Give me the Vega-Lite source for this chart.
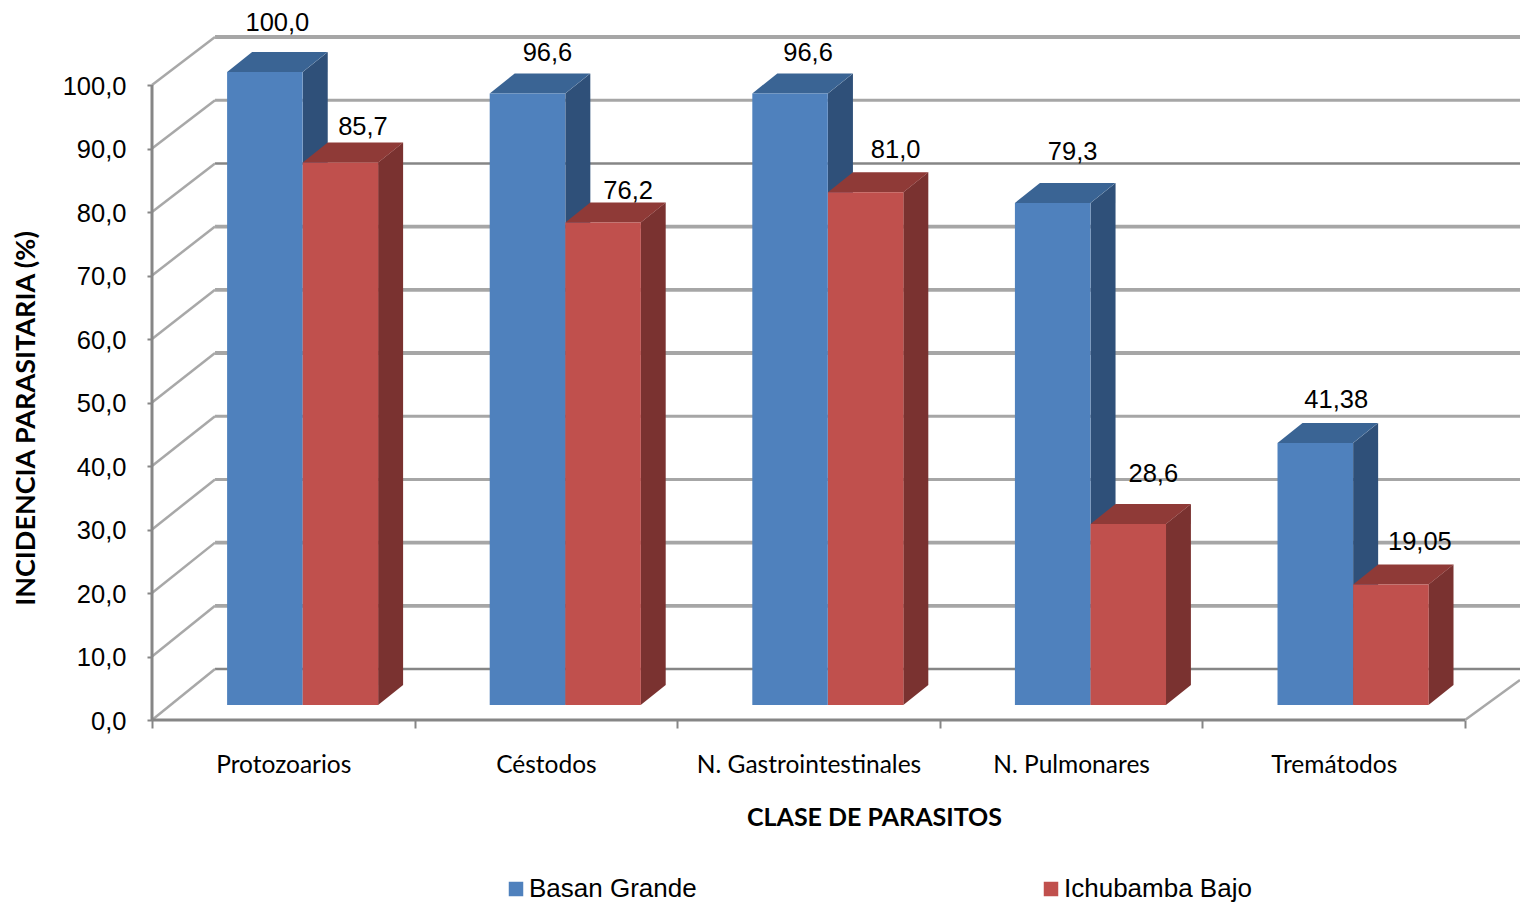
{
  "$schema": "https://vega.github.io/schema/vega-lite/v6.json",
  "autosize": "none",
  "padding": {"left": 152, "top": 0, "right": 0, "bottom": 184},
  "width": 1368,
  "height": 720,
  "background": "white",
  "view": {"stroke": null},
  "config": {"font": "Liberation Sans"},
  "datasets": {
    "incidencia": [
      {"clase": "Protozoarios", "serie": "Basan Grande", "valor": 100, "etiqueta": "100,0"},
      {"clase": "Céstodos", "serie": "Basan Grande", "valor": 96.6, "etiqueta": "96,6"},
      {"clase": "N. Gastrointestinales", "serie": "Basan Grande", "valor": 96.6, "etiqueta": "96,6"},
      {"clase": "N. Pulmonares", "serie": "Basan Grande", "valor": 79.3, "etiqueta": "79,3"},
      {"clase": "Tremátodos", "serie": "Basan Grande", "valor": 41.38, "etiqueta": "41,38"},
      {"clase": "Protozoarios", "serie": "Ichubamba Bajo", "valor": 85.7, "etiqueta": "85,7"},
      {"clase": "Céstodos", "serie": "Ichubamba Bajo", "valor": 76.2, "etiqueta": "76,2"},
      {"clase": "N. Gastrointestinales", "serie": "Ichubamba Bajo", "valor": 81.0, "etiqueta": "81,0"},
      {"clase": "N. Pulmonares", "serie": "Ichubamba Bajo", "valor": 28.6, "etiqueta": "28,6"},
      {"clase": "Tremátodos", "serie": "Ichubamba Bajo", "valor": 19.05, "etiqueta": "19,05"}
    ],
    "niveles": [
      {"nivel": 0}, {"nivel": 10}, {"nivel": 20}, {"nivel": 30}, {"nivel": 40}, {"nivel": 50},
      {"nivel": 60}, {"nivel": 70}, {"nivel": 80}, {"nivel": 90}, {"nivel": 100}
    ],
    "unica": [{"marco": 1}]
  },
  "layer": [
    {
      "data": {"name": "niveles"},
      "transform": [{"calculate": "datum.nivel * 0.9953 + 8.03", "as": "fondo"}],
      "mark": {"type": "rule"},
      "encoding": {
        "x": {
          "datum": 0.24,
          "type": "quantitative",
          "scale": {"domain": [0, 5.2094], "nice": false, "zero": false},
          "axis": {
            "values": [0, 0.5, 1, 1.5, 2, 2.5, 3, 3.5, 4, 4.5, 5],
            "domain": false,
            "grid": false,
            "tickColor": "#868686",
            "tickWidth": 2,
            "tickSize": 8,
            "tickOpacity": {"condition": {"test": "datum.value % 1 === 0", "value": 1}, "value": 0},
            "labelExpr": "datum.value % 1 === 0 ? '' : ['Protozoarios','Céstodos','N. Gastrointestinales','N. Pulmonares','Tremátodos'][floor(datum.value)]",
            "labelFont": "Lato",
            "labelFontSize": 24.5,
            "labelColor": "#000000",
            "labelPadding": 25,
            "labelLimit": 400,
            "labelOverlap": false,
            "labelFlush": false,
            "labelBound": false,
            "title": "CLASE DE PARASITOS",
            "titleFont": "Lato",
            "titleFontSize": 25,
            "titleFontWeight": "bold",
            "titleColor": "#000000",
            "titleX": 722,
            "titleY": 97,
            "titleAlign": "center",
            "titleBaseline": "middle"
          }
        },
        "x2": {"datum": 5.2094},
        "y": {
          "field": "fondo",
          "type": "quantitative",
          "scale": {"domain": [0, 113.386], "nice": false, "zero": false},
          "axis": {
            "values": [0, 10, 20, 30, 40, 50, 60, 70, 80, 90, 100],
            "domain": false,
            "grid": false,
            "tickColor": "#868686",
            "tickWidth": 2,
            "tickSize": 5,
            "labelExpr": "replace(format(datum.value, '.1f'), '.', ',')",
            "labelFont": "Liberation Sans",
            "labelFontSize": 25.5,
            "labelColor": "#000000",
            "labelPadding": 21,
            "labelOffset": 1,
            "labelOverlap": false,
            "labelBound": false,
            "title": "INCIDENCIA  PARASITARIA (%)",
            "titleFont": "Lato",
            "titleFontSize": 27,
            "titleFontWeight": "bold",
            "titleColor": "#000000",
            "titleX": -126,
            "titleY": 418,
            "titleAngle": -90,
            "titleAlign": "center",
            "titleBaseline": "middle"
          }
        },
        "stroke": {
          "condition": {"test": "datum.nivel === 0 || datum.nivel === 80", "value": "#868686"},
          "value": "#a6a6a6"
        },
        "strokeWidth": {
          "condition": [
            {"test": "datum.nivel === 0 || datum.nivel === 80", "value": 2.5},
            {"test": "datum.nivel === 90 || datum.nivel === 40 || datum.nivel === 30", "value": 3}
          ],
          "value": 3.8
        }
      }
    },
    {
      "data": {"name": "niveles"},
      "transform": [{"calculate": "datum.nivel * 0.9953 + 8.03", "as": "fondo"}],
      "mark": {"type": "rule", "color": "#a8a8a8", "strokeWidth": 2.5},
      "encoding": {
        "x": {"datum": 0, "type": "quantitative"},
        "x2": {"datum": 0.24},
        "y": {"field": "nivel", "type": "quantitative"},
        "y2": {"field": "fondo"}
      }
    },
    {
      "data": {"name": "unica"},
      "mark": {"type": "rule", "color": "#a8a8a8", "strokeWidth": 2.5},
      "encoding": {
        "x": {"datum": 5, "type": "quantitative"},
        "x2": {"datum": 5.2094},
        "y": {"datum": 0, "type": "quantitative"},
        "y2": {"datum": 6.3}
      }
    },
    {
      "data": {"name": "unica"},
      "mark": {"type": "rule", "color": "#868686", "strokeWidth": 3},
      "encoding": {
        "x": {"datum": 0, "type": "quantitative"},
        "y": {"datum": 0, "type": "quantitative"},
        "y2": {"datum": 100}
      }
    },
    {
      "data": {"name": "unica"},
      "mark": {"type": "rule", "color": "#868686", "strokeWidth": 3},
      "encoding": {
        "x": {"datum": 0, "type": "quantitative"},
        "x2": {"datum": 5},
        "y": {"datum": 0, "type": "quantitative"}
      }
    },
    {
      "data": {"name": "incidencia"},
      "transform": [
        {"calculate": "indexof(['Protozoarios','Céstodos','N. Gastrointestinales','N. Pulmonares','Tremátodos'], datum.clase)", "as": "idx"},
        {"calculate": "datum.idx + (datum.serie === 'Basan Grande' ? 0.574 : 0.861)", "as": "der"},
        {"calculate": "[0, 1]", "as": "t"},
        {"flatten": ["t"]},
        {"calculate": "datum.der + datum.t * 0.0952", "as": "xc"},
        {"calculate": "2.36 + datum.t * 3.15", "as": "yb"},
        {"calculate": "2.36 + datum.valor * 0.997 + datum.t * 3.15", "as": "yt"}
      ],
      "mark": {"type": "area", "interpolate": "linear"},
      "encoding": {
        "x": {"field": "xc", "type": "quantitative"},
        "y": {"field": "yt", "type": "quantitative"},
        "y2": {"field": "yb"},
        "detail": {"field": "clase"},
        "color": {
          "field": "serie",
          "type": "nominal",
          "legend": null,
          "scale": {"domain": ["Basan Grande", "Ichubamba Bajo"], "range": ["#2f5079", "#7a3230"]}
        }
      }
    },
    {
      "data": {"name": "incidencia"},
      "transform": [
        {"calculate": "indexof(['Protozoarios','Céstodos','N. Gastrointestinales','N. Pulmonares','Tremátodos'], datum.clase)", "as": "idx"},
        {"calculate": "datum.idx + (datum.serie === 'Basan Grande' ? 0.286 : 0.574)", "as": "izq"},
        {"calculate": "[0, 1]", "as": "t"},
        {"flatten": ["t"]},
        {"calculate": "datum.izq + datum.t * 0.0952", "as": "xi"},
        {"calculate": "datum.izq + 0.2875 + datum.t * 0.0952", "as": "xd"},
        {"calculate": "2.36 + datum.valor * 0.997 + datum.t * 3.15", "as": "yt"}
      ],
      "mark": {"type": "area", "orient": "horizontal", "interpolate": "linear"},
      "encoding": {
        "y": {"field": "yt", "type": "quantitative"},
        "x": {"field": "xi", "type": "quantitative"},
        "x2": {"field": "xd"},
        "detail": {"field": "clase"},
        "color": {
          "field": "serie",
          "type": "nominal",
          "legend": null,
          "scale": {"domain": ["Basan Grande", "Ichubamba Bajo"], "range": ["#3a6494", "#8f3a37"]}
        }
      }
    },
    {
      "data": {"name": "incidencia"},
      "transform": [
        {"calculate": "indexof(['Protozoarios','Céstodos','N. Gastrointestinales','N. Pulmonares','Tremátodos'], datum.clase)", "as": "idx"},
        {"calculate": "datum.idx + (datum.serie === 'Basan Grande' ? 0.286 : 0.574)", "as": "izq"},
        {"calculate": "datum.izq + 0.2875", "as": "der"},
        {"calculate": "2.36", "as": "yb"},
        {"calculate": "2.36 + datum.valor * 0.997", "as": "yt"}
      ],
      "mark": {"type": "rect"},
      "encoding": {
        "x": {"field": "izq", "type": "quantitative"},
        "x2": {"field": "der"},
        "y": {"field": "yt", "type": "quantitative"},
        "y2": {"field": "yb"},
        "color": {
          "field": "serie",
          "type": "nominal",
          "scale": {"domain": ["Basan Grande", "Ichubamba Bajo"], "range": ["#4f81bd", "#c0504d"]},
          "legend": {
            "title": null,
            "orient": "none",
            "legendX": 351,
            "legendY": 876,
            "direction": "horizontal",
            "columns": 2,
            "columnPadding": 341,
            "symbolType": "square",
            "symbolSize": 210,
            "symbolStrokeWidth": 0,
            "labelFont": "Liberation Sans",
            "labelFontSize": 26,
            "labelColor": "#000000",
            "labelOffset": 0,
            "labelLimit": 300
          }
        }
      }
    },
    {
      "data": {"name": "incidencia"},
      "transform": [
        {"calculate": "indexof(['Protozoarios','Céstodos','N. Gastrointestinales','N. Pulmonares','Tremátodos'], datum.clase)", "as": "idx"},
        {"calculate": "datum.serie === 'Basan Grande' ? [[0, 29], [7.5, 20.5], [5.5, 20.5], [7.5, 31], [8.5, 23]][datum.idx] : [[10, 15.5], [12.5, 12], [17.5, 22], [12.5, 30], [16.5, 22]][datum.idx]", "as": "ajuste"},
        {"calculate": "datum.idx + (datum.serie === 'Basan Grande' ? 0.286 : 0.574) + 0.19135 + datum.ajuste[0] / 262.6", "as": "xt"},
        {"calculate": "2.36 + datum.valor * 0.997 + 3.15 + datum.ajuste[1] / 6.35", "as": "yl"}
      ],
      "mark": {"type": "text", "font": "Liberation Sans", "fontSize": 25.5, "color": "#000000", "align": "center", "baseline": "middle"},
      "encoding": {
        "x": {"field": "xt", "type": "quantitative"},
        "y": {"field": "yl", "type": "quantitative"},
        "text": {"field": "etiqueta"}
      }
    }
  ],
  "resolve": {"scale": {"color": "independent"}}
}
